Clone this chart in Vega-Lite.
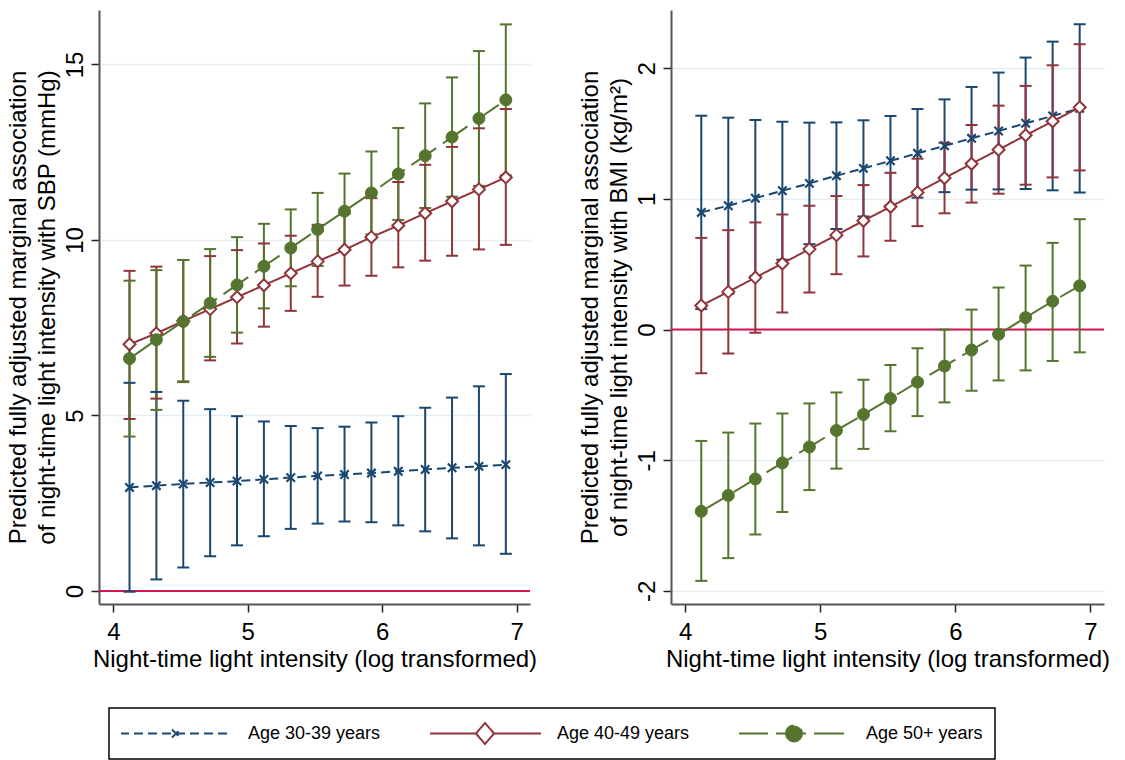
{
  "$schema": "https://vega.github.io/schema/vega-lite/v6.json",
  "background": "white",
  "padding": {"left": 6, "top": 10, "right": 0, "bottom": 0},
  "config": {
    "font": "Liberation Sans",
    "view": {"stroke": null},
    "axis": {
      "labelFont": "Liberation Sans", "titleFont": "Liberation Sans",
      "labelColor": "#000", "titleColor": "#000", "titleFontWeight": "normal",
      "labelFontSize": 24, "titleFontSize": 24,
      "tickColor": "#222", "domainColor": "#555", "domainWidth": 2,
      "tickWidth": 1.5, "tickSize": 8,
      "gridColor": "#e4edf0", "gridWidth": 1.5
    },
    "legend": {"strokeWidth": 1.5}
  },
  "datasets": {
    "d": [
      {"p":"SBP","g":"Age 30-39 years","x":4.12,"y":2.95,"lo":-0.02,"hi":5.93},
      {"p":"SBP","g":"Age 30-39 years","x":4.32,"y":3.00,"lo":0.33,"hi":5.67},
      {"p":"SBP","g":"Age 30-39 years","x":4.52,"y":3.05,"lo":0.67,"hi":5.42},
      {"p":"SBP","g":"Age 30-39 years","x":4.72,"y":3.09,"lo":0.99,"hi":5.18},
      {"p":"SBP","g":"Age 30-39 years","x":4.92,"y":3.13,"lo":1.30,"hi":4.98},
      {"p":"SBP","g":"Age 30-39 years","x":5.12,"y":3.18,"lo":1.56,"hi":4.83},
      {"p":"SBP","g":"Age 30-39 years","x":5.32,"y":3.23,"lo":1.77,"hi":4.70},
      {"p":"SBP","g":"Age 30-39 years","x":5.52,"y":3.28,"lo":1.92,"hi":4.64},
      {"p":"SBP","g":"Age 30-39 years","x":5.72,"y":3.32,"lo":1.98,"hi":4.68},
      {"p":"SBP","g":"Age 30-39 years","x":5.92,"y":3.36,"lo":1.96,"hi":4.80},
      {"p":"SBP","g":"Age 30-39 years","x":6.12,"y":3.41,"lo":1.87,"hi":4.98},
      {"p":"SBP","g":"Age 30-39 years","x":6.32,"y":3.46,"lo":1.70,"hi":5.22},
      {"p":"SBP","g":"Age 30-39 years","x":6.52,"y":3.51,"lo":1.50,"hi":5.51},
      {"p":"SBP","g":"Age 30-39 years","x":6.72,"y":3.55,"lo":1.30,"hi":5.83},
      {"p":"SBP","g":"Age 30-39 years","x":6.92,"y":3.60,"lo":1.06,"hi":6.18},
      {"p":"SBP","g":"Age 40-49 years","x":4.12,"y":7.03,"lo":4.90,"hi":9.12},
      {"p":"SBP","g":"Age 40-49 years","x":4.32,"y":7.34,"lo":5.48,"hi":9.24},
      {"p":"SBP","g":"Age 40-49 years","x":4.52,"y":7.69,"lo":5.97,"hi":9.43},
      {"p":"SBP","g":"Age 40-49 years","x":4.72,"y":8.03,"lo":6.57,"hi":9.54},
      {"p":"SBP","g":"Age 40-49 years","x":4.92,"y":8.37,"lo":7.05,"hi":9.71},
      {"p":"SBP","g":"Age 40-49 years","x":5.12,"y":8.71,"lo":7.53,"hi":9.90},
      {"p":"SBP","g":"Age 40-49 years","x":5.32,"y":9.05,"lo":7.98,"hi":10.12},
      {"p":"SBP","g":"Age 40-49 years","x":5.52,"y":9.39,"lo":8.38,"hi":10.43},
      {"p":"SBP","g":"Age 40-49 years","x":5.72,"y":9.72,"lo":8.70,"hi":10.74},
      {"p":"SBP","g":"Age 40-49 years","x":5.92,"y":10.08,"lo":8.98,"hi":11.19},
      {"p":"SBP","g":"Age 40-49 years","x":6.12,"y":10.41,"lo":9.22,"hi":11.65},
      {"p":"SBP","g":"Age 40-49 years","x":6.32,"y":10.76,"lo":9.41,"hi":12.14},
      {"p":"SBP","g":"Age 40-49 years","x":6.52,"y":11.10,"lo":9.55,"hi":12.65},
      {"p":"SBP","g":"Age 40-49 years","x":6.72,"y":11.44,"lo":9.73,"hi":13.18},
      {"p":"SBP","g":"Age 40-49 years","x":6.92,"y":11.78,"lo":9.86,"hi":13.73},
      {"p":"SBP","g":"Age 50+ years","x":4.12,"y":6.62,"lo":4.40,"hi":8.84},
      {"p":"SBP","g":"Age 50+ years","x":4.32,"y":7.16,"lo":5.16,"hi":9.14},
      {"p":"SBP","g":"Age 50+ years","x":4.52,"y":7.68,"lo":5.95,"hi":9.43},
      {"p":"SBP","g":"Age 50+ years","x":4.72,"y":8.20,"lo":6.67,"hi":9.74},
      {"p":"SBP","g":"Age 50+ years","x":4.92,"y":8.72,"lo":7.36,"hi":10.08},
      {"p":"SBP","g":"Age 50+ years","x":5.12,"y":9.25,"lo":8.05,"hi":10.46},
      {"p":"SBP","g":"Age 50+ years","x":5.32,"y":9.77,"lo":8.68,"hi":10.87},
      {"p":"SBP","g":"Age 50+ years","x":5.52,"y":10.30,"lo":9.26,"hi":11.34},
      {"p":"SBP","g":"Age 50+ years","x":5.72,"y":10.82,"lo":9.75,"hi":11.89},
      {"p":"SBP","g":"Age 50+ years","x":5.92,"y":11.34,"lo":10.16,"hi":12.52},
      {"p":"SBP","g":"Age 50+ years","x":6.12,"y":11.88,"lo":10.57,"hi":13.19},
      {"p":"SBP","g":"Age 50+ years","x":6.32,"y":12.40,"lo":10.91,"hi":13.89},
      {"p":"SBP","g":"Age 50+ years","x":6.52,"y":12.93,"lo":11.23,"hi":14.63},
      {"p":"SBP","g":"Age 50+ years","x":6.72,"y":13.46,"lo":11.54,"hi":15.38},
      {"p":"SBP","g":"Age 50+ years","x":6.92,"y":13.99,"lo":11.84,"hi":16.14},
      {"p":"BMI","g":"Age 30-39 years","x":4.12,"y":0.897,"lo":0.157,"hi":1.637},
      {"p":"BMI","g":"Age 30-39 years","x":4.32,"y":0.948,"lo":0.274,"hi":1.622},
      {"p":"BMI","g":"Age 30-39 years","x":4.52,"y":1.006,"lo":0.408,"hi":1.604},
      {"p":"BMI","g":"Age 30-39 years","x":4.72,"y":1.063,"lo":0.535,"hi":1.591},
      {"p":"BMI","g":"Age 30-39 years","x":4.92,"y":1.119,"lo":0.654,"hi":1.584},
      {"p":"BMI","g":"Age 30-39 years","x":5.12,"y":1.178,"lo":0.770,"hi":1.586},
      {"p":"BMI","g":"Age 30-39 years","x":5.32,"y":1.234,"lo":0.866,"hi":1.602},
      {"p":"BMI","g":"Age 30-39 years","x":5.52,"y":1.292,"lo":0.949,"hi":1.635},
      {"p":"BMI","g":"Age 30-39 years","x":5.72,"y":1.349,"lo":1.010,"hi":1.688},
      {"p":"BMI","g":"Age 30-39 years","x":5.92,"y":1.407,"lo":1.052,"hi":1.762},
      {"p":"BMI","g":"Age 30-39 years","x":6.12,"y":1.464,"lo":1.071,"hi":1.857},
      {"p":"BMI","g":"Age 30-39 years","x":6.32,"y":1.520,"lo":1.073,"hi":1.967},
      {"p":"BMI","g":"Age 30-39 years","x":6.52,"y":1.579,"lo":1.076,"hi":2.082},
      {"p":"BMI","g":"Age 30-39 years","x":6.72,"y":1.635,"lo":1.066,"hi":2.204},
      {"p":"BMI","g":"Age 30-39 years","x":6.92,"y":1.693,"lo":1.049,"hi":2.337},
      {"p":"BMI","g":"Age 40-49 years","x":4.12,"y":0.184,"lo":-0.334,"hi":0.702},
      {"p":"BMI","g":"Age 40-49 years","x":4.32,"y":0.289,"lo":-0.183,"hi":0.761},
      {"p":"BMI","g":"Age 40-49 years","x":4.52,"y":0.398,"lo":-0.024,"hi":0.820},
      {"p":"BMI","g":"Age 40-49 years","x":4.72,"y":0.506,"lo":0.131,"hi":0.881},
      {"p":"BMI","g":"Age 40-49 years","x":4.92,"y":0.616,"lo":0.284,"hi":0.948},
      {"p":"BMI","g":"Age 40-49 years","x":5.12,"y":0.723,"lo":0.424,"hi":1.022},
      {"p":"BMI","g":"Age 40-49 years","x":5.32,"y":0.833,"lo":0.560,"hi":1.106},
      {"p":"BMI","g":"Age 40-49 years","x":5.52,"y":0.940,"lo":0.680,"hi":1.200},
      {"p":"BMI","g":"Age 40-49 years","x":5.72,"y":1.050,"lo":0.792,"hi":1.308},
      {"p":"BMI","g":"Age 40-49 years","x":5.92,"y":1.160,"lo":0.890,"hi":1.430},
      {"p":"BMI","g":"Age 40-49 years","x":6.12,"y":1.269,"lo":0.972,"hi":1.566},
      {"p":"BMI","g":"Age 40-49 years","x":6.32,"y":1.377,"lo":1.040,"hi":1.714},
      {"p":"BMI","g":"Age 40-49 years","x":6.52,"y":1.487,"lo":1.109,"hi":1.865},
      {"p":"BMI","g":"Age 40-49 years","x":6.72,"y":1.594,"lo":1.165,"hi":2.023},
      {"p":"BMI","g":"Age 40-49 years","x":6.92,"y":1.701,"lo":1.218,"hi":2.184},
      {"p":"BMI","g":"Age 50+ years","x":4.12,"y":-1.391,"lo":-1.923,"hi":-0.852},
      {"p":"BMI","g":"Age 50+ years","x":4.32,"y":-1.269,"lo":-1.749,"hi":-0.788},
      {"p":"BMI","g":"Age 50+ years","x":4.52,"y":-1.143,"lo":-1.568,"hi":-0.719},
      {"p":"BMI","g":"Age 50+ years","x":4.72,"y":-1.020,"lo":-1.396,"hi":-0.642},
      {"p":"BMI","g":"Age 50+ years","x":4.92,"y":-0.898,"lo":-1.228,"hi":-0.565},
      {"p":"BMI","g":"Age 50+ years","x":5.12,"y":-0.772,"lo":-1.064,"hi":-0.481},
      {"p":"BMI","g":"Age 50+ years","x":5.32,"y":-0.650,"lo":-0.913,"hi":-0.384},
      {"p":"BMI","g":"Age 50+ years","x":5.52,"y":-0.527,"lo":-0.778,"hi":-0.271},
      {"p":"BMI","g":"Age 50+ years","x":5.72,"y":-0.402,"lo":-0.662,"hi":-0.143},
      {"p":"BMI","g":"Age 50+ years","x":5.92,"y":-0.279,"lo":-0.557,"hi":0.000},
      {"p":"BMI","g":"Age 50+ years","x":6.12,"y":-0.156,"lo":-0.468,"hi":0.153},
      {"p":"BMI","g":"Age 50+ years","x":6.32,"y":-0.036,"lo":-0.389,"hi":0.322},
      {"p":"BMI","g":"Age 50+ years","x":6.52,"y":0.092,"lo":-0.312,"hi":0.490},
      {"p":"BMI","g":"Age 50+ years","x":6.72,"y":0.217,"lo":-0.240,"hi":0.664},
      {"p":"BMI","g":"Age 50+ years","x":6.92,"y":0.335,"lo":-0.174,"hi":0.845}
    ],
    "zero": [{"z": 0}]
  },
  "bounds": "flush",
  "spacing": 141,
  "hconcat": [
    {
      "width": 431, "height": 594,
      "layer": [
        {
          "data": {"name": "zero"},
          "mark": {"type": "rule", "color": "#d4164f", "strokeWidth": 2},
          "encoding": {
            "y": {"field": "z", "type": "quantitative", "scale": {"domain": [-0.37, 16.55], "nice": false, "zero": false},
                  "title": ["Predicted fully adjusted marginal association", "of night-time light intensity with SBP (mmHg)"]}
          }
        },
        {
          "data": {"name": "d"},
          "transform": [{"filter": "datum.p === 'SBP'"}],
          "layer": [
            {
              "transform": [{"filter": "datum.p === 'none'"}],
              "mark": {"type": "point", "opacity": 1, "strokeWidth": 2},
              "encoding": {
                "shape": {"field": "g", "type": "nominal",
                  "scale": {"domain": ["Age 30-39 years", "Age 40-49 years", "Age 50+ years"],
                            "range": ["M0,-2.7M0,2.7M-11.2,0H11.2M-0.8,-0.8L0.8,0.8M-0.8,0.8L0.8,-0.8",
                                      "M0,-2.7M0,2.7M-11.2,0H-1.8M1.8,0H11.2M-1.8,0L0,-2.1L1.8,0L0,2.1Z",
                                      "M0,-2.7M0,2.7M-11.2,0H11.2M-1.6,0A1.6,1.6,0,1,0,1.6,0A1.6,1.6,0,1,0,-1.6,0Z"]},
                  "legend": {
                    "title": null, "orient": "none", "legendX": 10, "legendY": 698, "direction": "horizontal",
                    "padding": 12, "clipHeight": 27, "strokeColor": "#000", "fillColor": "#fff", "symbolSize": 100, "symbolStrokeWidth": 2, "symbolOpacity": 1,
                    "symbolOffset": 46, "labelOffset": 63, "columnPadding": 49,
                    "labelFont": "Liberation Sans", "labelFontSize": 18, "labelColor": "#000"
                  }},
                "fill": {"field": "g", "type": "nominal",
                  "scale": {"domain": ["Age 30-39 years", "Age 40-49 years", "Age 50+ years"], "range": ["transparent", "#ffffff", "#55752f"]},
                  "legend": {
                    "title": null, "orient": "none", "legendX": 10, "legendY": 698, "direction": "horizontal",
                    "padding": 12, "clipHeight": 27, "strokeColor": "#000", "fillColor": "#fff", "symbolSize": 100, "symbolStrokeWidth": 2, "symbolOpacity": 1,
                    "symbolOffset": 46, "labelOffset": 63, "columnPadding": 49,
                    "labelFont": "Liberation Sans", "labelFontSize": 18, "labelColor": "#000"
                  }}
              }
            },
            {
              "mark": {"type": "rule", "strokeWidth": 2},
              "encoding": {
                "x": {"field": "x", "type": "quantitative", "scale": {"domain": [3.893, 7.1], "nice": false, "zero": false},
                      "title": "Night-time light intensity (log transformed)",
                      "axis": {"values": [4, 5, 6, 7], "labelExpr": "'' + datum.value", "grid": false, "labelPadding": 8, "titlePadding": 3}},
                "y": {"field": "lo", "type": "quantitative", "scale": {"domain": [-0.37, 16.55], "nice": false, "zero": false},
                      "title": ["Predicted fully adjusted marginal association", "of night-time light intensity with SBP (mmHg)"],
                      "axis": {"values": [0, 5, 10, 15], "labelExpr": "'' + datum.value", "grid": true, "labelAngle": -90, "labelAlign": "center", "labelBaseline": "alphabetic", "labelPadding": 9, "titlePadding": 4, "titleLineHeight": 29}},
                "y2": {"field": "hi"},
                "color": {"field": "g", "type": "nominal", "scale": {"domain": ["Age 30-39 years", "Age 40-49 years", "Age 50+ years"], "range": ["#1a476f", "#90353b", "#55752f"]}}
              }
            },
            {
              "mark": {"type": "tick", "orient": "horizontal", "size": 12, "thickness": 2, "opacity": 1},
              "encoding": {
                "x": {"field": "x", "type": "quantitative", "scale": {"domain": [3.893, 7.1], "nice": false, "zero": false}, "title": "Night-time light intensity (log transformed)"},
                "y": {"field": "lo", "type": "quantitative", "scale": {"domain": [-0.37, 16.55], "nice": false, "zero": false}, "title": ["Predicted fully adjusted marginal association", "of night-time light intensity with SBP (mmHg)"]},
                "color": {"field": "g", "type": "nominal"}
              }
            },
            {
              "mark": {"type": "tick", "orient": "horizontal", "size": 12, "thickness": 2, "opacity": 1},
              "encoding": {
                "x": {"field": "x", "type": "quantitative", "scale": {"domain": [3.893, 7.1], "nice": false, "zero": false}, "title": "Night-time light intensity (log transformed)"},
                "y": {"field": "hi", "type": "quantitative", "scale": {"domain": [-0.37, 16.55], "nice": false, "zero": false}, "title": ["Predicted fully adjusted marginal association", "of night-time light intensity with SBP (mmHg)"]},
                "color": {"field": "g", "type": "nominal"}
              }
            },
            {
              "mark": {"type": "line", "strokeWidth": 2},
              "encoding": {
                "x": {"field": "x", "type": "quantitative", "scale": {"domain": [3.893, 7.1], "nice": false, "zero": false}, "title": "Night-time light intensity (log transformed)"},
                "y": {"field": "y", "type": "quantitative", "scale": {"domain": [-0.37, 16.55], "nice": false, "zero": false}, "title": ["Predicted fully adjusted marginal association", "of night-time light intensity with SBP (mmHg)"]},
                "color": {"field": "g", "type": "nominal"},
                "strokeDash": {"field": "g", "type": "nominal", "scale": {"domain": ["Age 30-39 years", "Age 40-49 years", "Age 50+ years"], "range": [[9, 5], [1, 0], [30, 8]]}}
              }
            },
            {
              "transform": [{"filter": "datum.g === 'Age 30-39 years'"}],
              "mark": {"type": "point", "shape": "M-0.7,-0.7L0.7,0.7M-0.7,0.7L0.7,-0.7", "size": 144, "stroke": "#1a476f", "fill": "transparent", "strokeWidth": 2.2, "opacity": 1},
              "encoding": {
                "x": {"field": "x", "type": "quantitative", "scale": {"domain": [3.893, 7.1], "nice": false, "zero": false}, "title": "Night-time light intensity (log transformed)"},
                "y": {"field": "y", "type": "quantitative", "scale": {"domain": [-0.37, 16.55], "nice": false, "zero": false}, "title": ["Predicted fully adjusted marginal association", "of night-time light intensity with SBP (mmHg)"]}
              }
            },
            {
              "transform": [{"filter": "datum.g === 'Age 40-49 years'"}],
              "mark": {"type": "point", "shape": "diamond", "size": 144, "stroke": "#90353b", "fill": "#ffffff", "strokeWidth": 2, "opacity": 1},
              "encoding": {
                "x": {"field": "x", "type": "quantitative", "scale": {"domain": [3.893, 7.1], "nice": false, "zero": false}, "title": "Night-time light intensity (log transformed)"},
                "y": {"field": "y", "type": "quantitative", "scale": {"domain": [-0.37, 16.55], "nice": false, "zero": false}, "title": ["Predicted fully adjusted marginal association", "of night-time light intensity with SBP (mmHg)"]}
              }
            },
            {
              "transform": [{"filter": "datum.g === 'Age 50+ years'"}],
              "mark": {"type": "point", "shape": "circle", "size": 144, "stroke": "#55752f", "fill": "#55752f", "filled": true, "strokeWidth": 1, "opacity": 1},
              "encoding": {
                "x": {"field": "x", "type": "quantitative", "scale": {"domain": [3.893, 7.1], "nice": false, "zero": false}, "title": "Night-time light intensity (log transformed)"},
                "y": {"field": "y", "type": "quantitative", "scale": {"domain": [-0.37, 16.55], "nice": false, "zero": false}, "title": ["Predicted fully adjusted marginal association", "of night-time light intensity with SBP (mmHg)"]}
              }
            }
          ]
        }
      ]
    },
    {
      "width": 433, "height": 594,
      "layer": [
        {
          "data": {"name": "zero"},
          "mark": {"type": "rule", "color": "#d4164f", "strokeWidth": 2},
          "encoding": {
            "y": {"field": "z", "type": "quantitative", "scale": {"domain": [-2.1, 2.446], "nice": false, "zero": false},
                  "title": ["Predicted fully adjusted marginal association", "of night-time light intensity with BMI (kg/m²)"]}
          }
        },
        {
          "data": {"name": "d"},
          "transform": [{"filter": "datum.p === 'BMI'"}],
          "layer": [
            {
              "mark": {"type": "rule", "strokeWidth": 2},
              "encoding": {
                "x": {"field": "x", "type": "quantitative", "scale": {"domain": [3.896, 7.1], "nice": false, "zero": false},
                      "title": "Night-time light intensity (log transformed)",
                      "axis": {"values": [4, 5, 6, 7], "labelExpr": "'' + datum.value", "grid": false, "labelPadding": 8, "titlePadding": 3}},
                "y": {"field": "lo", "type": "quantitative", "scale": {"domain": [-2.1, 2.446], "nice": false, "zero": false},
                      "title": ["Predicted fully adjusted marginal association", "of night-time light intensity with BMI (kg/m²)"],
                      "axis": {"values": [-2, -1, 0, 1, 2], "labelExpr": "'' + datum.value", "grid": true, "labelAngle": -90, "labelAlign": "center", "labelBaseline": "alphabetic", "labelPadding": 9, "titlePadding": 4, "titleLineHeight": 29}},
                "y2": {"field": "hi"},
                "color": {"field": "g", "type": "nominal", "scale": {"domain": ["Age 30-39 years", "Age 40-49 years", "Age 50+ years"], "range": ["#1a476f", "#90353b", "#55752f"]}}
              }
            },
            {
              "mark": {"type": "tick", "orient": "horizontal", "size": 12, "thickness": 2, "opacity": 1},
              "encoding": {
                "x": {"field": "x", "type": "quantitative", "scale": {"domain": [3.896, 7.1], "nice": false, "zero": false}, "title": "Night-time light intensity (log transformed)"},
                "y": {"field": "lo", "type": "quantitative", "scale": {"domain": [-2.1, 2.446], "nice": false, "zero": false}, "title": ["Predicted fully adjusted marginal association", "of night-time light intensity with BMI (kg/m²)"]},
                "color": {"field": "g", "type": "nominal"}
              }
            },
            {
              "mark": {"type": "tick", "orient": "horizontal", "size": 12, "thickness": 2, "opacity": 1},
              "encoding": {
                "x": {"field": "x", "type": "quantitative", "scale": {"domain": [3.896, 7.1], "nice": false, "zero": false}, "title": "Night-time light intensity (log transformed)"},
                "y": {"field": "hi", "type": "quantitative", "scale": {"domain": [-2.1, 2.446], "nice": false, "zero": false}, "title": ["Predicted fully adjusted marginal association", "of night-time light intensity with BMI (kg/m²)"]},
                "color": {"field": "g", "type": "nominal"}
              }
            },
            {
              "mark": {"type": "line", "strokeWidth": 2},
              "encoding": {
                "x": {"field": "x", "type": "quantitative", "scale": {"domain": [3.896, 7.1], "nice": false, "zero": false}, "title": "Night-time light intensity (log transformed)"},
                "y": {"field": "y", "type": "quantitative", "scale": {"domain": [-2.1, 2.446], "nice": false, "zero": false}, "title": ["Predicted fully adjusted marginal association", "of night-time light intensity with BMI (kg/m²)"]},
                "color": {"field": "g", "type": "nominal"},
                "strokeDash": {"field": "g", "type": "nominal", "scale": {"domain": ["Age 30-39 years", "Age 40-49 years", "Age 50+ years"], "range": [[9, 5], [1, 0], [30, 8]]}}
              }
            },
            {
              "transform": [{"filter": "datum.g === 'Age 30-39 years'"}],
              "mark": {"type": "point", "shape": "M-0.7,-0.7L0.7,0.7M-0.7,0.7L0.7,-0.7", "size": 144, "stroke": "#1a476f", "fill": "transparent", "strokeWidth": 2.2, "opacity": 1},
              "encoding": {
                "x": {"field": "x", "type": "quantitative", "scale": {"domain": [3.896, 7.1], "nice": false, "zero": false}, "title": "Night-time light intensity (log transformed)"},
                "y": {"field": "y", "type": "quantitative", "scale": {"domain": [-2.1, 2.446], "nice": false, "zero": false}, "title": ["Predicted fully adjusted marginal association", "of night-time light intensity with BMI (kg/m²)"]}
              }
            },
            {
              "transform": [{"filter": "datum.g === 'Age 40-49 years'"}],
              "mark": {"type": "point", "shape": "diamond", "size": 144, "stroke": "#90353b", "fill": "#ffffff", "strokeWidth": 2, "opacity": 1},
              "encoding": {
                "x": {"field": "x", "type": "quantitative", "scale": {"domain": [3.896, 7.1], "nice": false, "zero": false}, "title": "Night-time light intensity (log transformed)"},
                "y": {"field": "y", "type": "quantitative", "scale": {"domain": [-2.1, 2.446], "nice": false, "zero": false}, "title": ["Predicted fully adjusted marginal association", "of night-time light intensity with BMI (kg/m²)"]}
              }
            },
            {
              "transform": [{"filter": "datum.g === 'Age 50+ years'"}],
              "mark": {"type": "point", "shape": "circle", "size": 144, "stroke": "#55752f", "fill": "#55752f", "filled": true, "strokeWidth": 1, "opacity": 1},
              "encoding": {
                "x": {"field": "x", "type": "quantitative", "scale": {"domain": [3.896, 7.1], "nice": false, "zero": false}, "title": "Night-time light intensity (log transformed)"},
                "y": {"field": "y", "type": "quantitative", "scale": {"domain": [-2.1, 2.446], "nice": false, "zero": false}, "title": ["Predicted fully adjusted marginal association", "of night-time light intensity with BMI (kg/m²)"]}
              }
            }
          ]
        }
      ]
    }
  ]
}
